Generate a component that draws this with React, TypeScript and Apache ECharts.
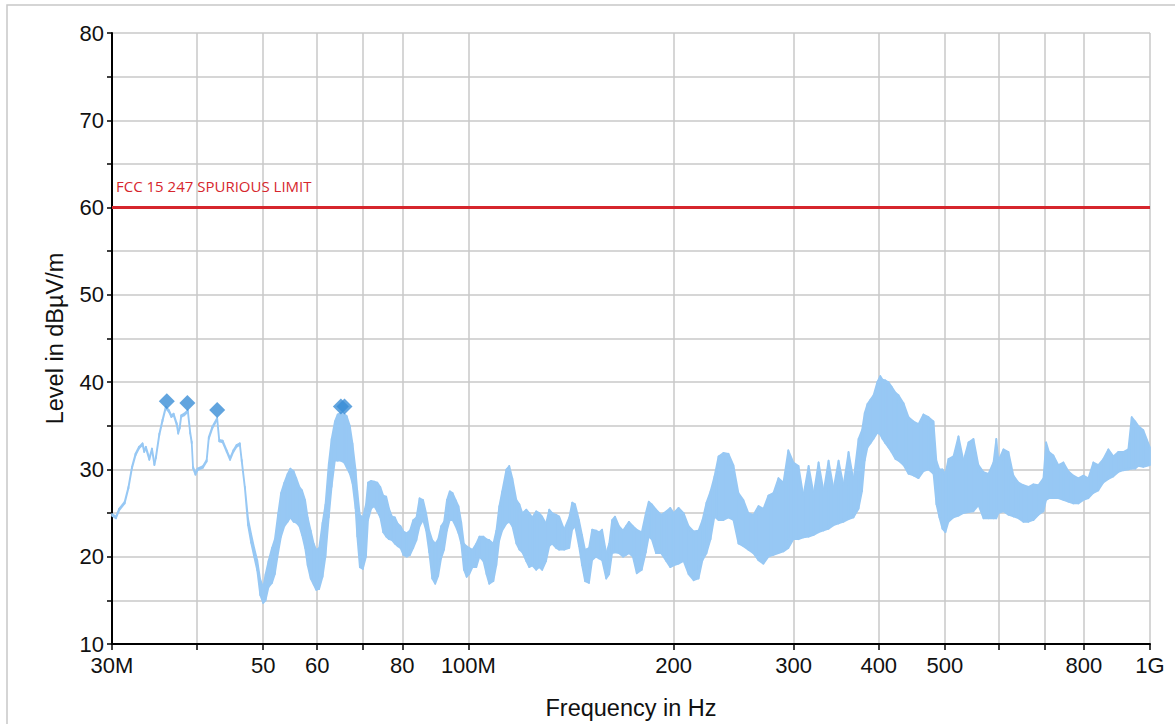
import React, { useEffect, useRef } from 'react';
import * as echarts from 'echarts';

// Frequency (MHz) of each measured point of the trace
const freqMHz: number[] = [
  30.0, 30.4, 30.73, 31.31, 31.71, 32.09, 32.48, 32.87, 33.26, 33.45,
  33.64, 34.03, 34.34, 34.62, 34.8, 35.2, 35.58, 35.97, 36.36, 36.66,
  36.94, 37.33, 37.52, 37.71, 37.9, 38.29, 38.76, 39.07, 39.27, 39.45,
  39.77, 40.05, 40.8, 41.3, 41.6, 42.1, 42.8, 43.1, 43.6, 44.2,
  44.7, 45.2, 45.7, 46.2, 46.5, 47.0, 47.5, 48.0, 48.5, 49.0, 49.5,
  50.0, 50.4, 50.9, 51.5, 52.0, 52.6, 53.1, 53.7, 54.3, 54.8,
  55.4, 55.9, 56.5, 57.0, 57.6, 58.1, 58.7, 59.3, 59.8, 60.4,
  61.1, 61.7, 62.4, 63.0, 63.7, 64.3, 65.0, 65.7, 66.3, 67.0,
  67.6, 68.3, 68.7, 69.3, 70.0,
  70.75, 71.25, 72.0, 72.75, 73.5, 74.25, 75.0, 75.75, 76.5, 77.25,
  78.0, 78.75, 79.5, 80.3, 81.2, 82.1, 83.0, 83.9, 84.8, 85.8,
  86.7, 87.6, 88.5, 89.4, 90.3, 91.2, 92.1, 93.0, 93.9, 94.8,
  95.8, 96.7, 97.6, 98.5, 99.4,
  100.3, 101.4, 102.7, 103.8, 105.2, 106.3, 107.3, 108.8, 109.9, 111.0,
  112.1, 113.7, 114.8, 116.0, 117.6, 118.8, 120.0, 121.6, 122.8, 124.1,
  125.7, 127.0, 128.3, 130.0, 131.4, 132.7, 134.5, 135.9, 138.2, 140.6,
  142.0, 143.4, 145.3, 146.8, 148.3, 150.3, 151.9, 153.9, 155.5, 157.1,
  159.3, 160.9, 162.5, 164.1, 166.3, 168.6, 170.3, 172.0, 174.3, 176.6,
  179.6, 182.1, 183.9, 185.8, 188.5, 191.8, 195.1, 197.8, 200.0,
  203.4, 206.9, 210.4, 214.0, 217.6, 220.5, 223.5, 226.6, 229.6, 232.8,
  236.7, 240.7, 244.8, 249.0, 253.2, 257.5, 261.9, 266.4, 270.9, 275.5,
  280.2, 285.0, 289.8, 294.7, 299.8,
  305, 310, 315.6, 321, 326.4, 332, 337.6, 343.3, 349.2, 355.1,
  361.2, 367.3, 373.6, 378, 381.5, 385, 389, 393, 398, 402,
  405, 409, 413.4, 417.6, 423.3, 427.6, 434.9, 442.3, 449.8, 457.4,
  465.2, 473.1, 481.2, 486, 491, 496, 501, 506.2, 514.8, 523.6,
  532.5, 541.6, 550.8, 560.2, 569.7, 579.4, 589.3, 595, 599.3, 609.5,
  619.9, 630.4, 641.2, 652, 663.2, 674.4, 685.9, 697.6, 704, 711,
  721.5, 733.8, 746.3, 758.9, 771.9, 785, 798.4, 812, 825.8, 839.8,
  854.1, 868.7, 883.4, 898.5, 913.8, 929.3, 940, 951.5, 961.2, 977.6,
  1000,
];

// Lower edge of the measured trace (dBµV/m)
const levelLow: number[] = [
  24.7, 24.4, 25.3, 26.1, 27.8, 30.1, 31.6, 32.4, 32.8, 32.0,
  32.4, 31.1, 32.2, 30.5, 31.3, 33.9, 35.5, 37.0, 36.6, 36.0,
  36.2, 35.1, 34.1, 34.7, 36.0, 36.2, 36.6, 34.1, 33.0, 30.1,
  29.4, 29.9, 30.2, 30.9, 33.5, 34.7, 35.7, 33.2, 33.1, 32.0,
  31.1, 32.0, 32.6, 32.8, 30.9, 27.8, 23.6, 21.6, 20.0, 18.4, 15.6,
  14.7, 15.0, 16.5, 17.0, 18.0, 20.5, 22.3, 23.5, 24.0, 24.5,
  24.0, 23.9, 23.5, 22.5, 21.0, 19.0, 17.5, 16.8, 16.2, 16.3,
  17.7, 20.0, 24.5, 28.0, 31.0, 31.0, 31.0, 30.8, 30.2, 29.5,
  28.4, 25.5, 22.3, 18.8, 18.6,
  20.0, 24.2, 25.5, 25.8, 25.2, 24.5, 22.8, 22.3, 22.0, 21.9,
  21.5, 21.2, 21.0, 20.2, 20.0, 20.2, 21.0, 21.9, 23.5, 24.2,
  23.0, 20.5, 17.5, 16.9, 17.8, 19.8, 20.8, 23.0, 24.2, 24.2,
  23.5, 22.7, 21.5, 18.5, 17.7,
  18.0, 18.8, 18.8, 20.0, 19.5, 18.0, 16.9, 17.2, 19.0, 21.9,
  23.0, 23.8, 24.0, 23.5, 21.5, 20.8, 20.5, 19.5, 18.8, 19.0,
  18.5, 18.8, 18.5, 19.5, 21.2, 21.5, 21.0, 20.8, 20.8, 21.0,
  23.1, 23.5, 21.2, 19.0, 17.2, 17.0, 19.6, 20.0, 19.8, 19.6,
  17.5, 18.0, 20.4, 20.5, 20.4, 20.0, 20.2, 20.4, 20.0, 18.1,
  18.5, 20.5, 22.3, 22.0, 20.4, 20.4, 19.5, 18.8, 19.0,
  19.2, 19.5, 18.0, 17.3, 17.5, 19.6, 20.4, 22.0, 24.6, 24.2,
  24.2, 24.5, 24.2, 21.5, 21.2, 20.8, 20.4, 19.6, 19.2, 20.0,
  20.2, 20.4, 20.6, 21.0, 22.0,
  22.0, 22.2, 22.3, 22.5, 22.8, 23.0, 23.2, 23.6, 23.8, 24.0,
  24.3, 24.5, 25.5, 27.5, 31.0, 32.5, 33.0, 33.5, 34.2, 34.0,
  33.5, 33.0, 32.5, 32.0, 31.2, 31.0, 30.5, 29.5, 29.3, 29.0,
  29.8, 30.0, 29.5, 26.0, 24.5, 23.2, 22.8, 24.0, 24.5, 24.7,
  25.0, 25.1, 25.2, 25.9, 24.4, 24.4, 24.4, 24.4, 25.0, 25.2,
  24.8, 24.6, 24.4, 24.0, 24.0, 24.2, 24.8, 25.2, 26.5, 26.7,
  26.7, 26.7, 26.5, 26.3, 26.1, 26.1, 26.5, 26.7, 27.3, 27.6,
  28.5, 28.9, 29.2, 29.7, 29.9, 30.0, 30.1, 30.1, 30.4, 30.3,
  30.5,
];

// Upper edge of the measured trace (dBµV/m)
const levelHigh: number[] = [
  24.9, 24.6, 25.5, 26.3, 28.0, 30.3, 31.8, 32.6, 33.0, 32.2,
  32.6, 31.3, 32.4, 30.7, 31.5, 34.1, 35.7, 37.2, 36.8, 36.2,
  36.4, 35.3, 34.3, 34.9, 36.2, 36.4, 36.8, 34.3, 33.2, 30.3,
  29.6, 30.1, 30.4, 31.1, 33.7, 34.9, 35.9, 33.4, 33.3, 32.2,
  31.3, 32.2, 32.8, 33.0, 31.1, 28.0, 24.4, 22.6, 21.0, 19.6, 17.4,
  16.5, 18.0, 19.5, 21.0, 22.0, 25.0, 27.3, 28.5, 29.5, 30.1,
  29.8, 29.0, 28.0, 27.6, 26.5, 24.5, 23.0, 21.5, 20.8, 21.0,
  23.9, 26.0, 30.7, 33.5, 35.5, 36.3, 36.5, 36.4, 36.1, 35.0,
  33.0, 30.0, 27.6, 24.8, 24.5,
  26.0, 28.5, 28.7, 28.6, 28.5, 28.0, 27.0, 26.9, 25.5, 24.6,
  24.5, 23.8, 23.5, 22.9, 22.7, 23.0, 24.2, 24.5, 26.7, 26.5,
  25.0, 23.0, 21.9, 21.5, 22.0, 23.5, 24.0, 26.5, 27.5, 27.3,
  26.5, 25.8, 24.0, 21.5, 21.2,
  21.0, 20.8, 21.5, 22.3, 22.3, 22.0, 21.9, 21.5, 23.0, 25.8,
  27.5, 30.0, 30.4, 29.0, 26.5, 26.0, 25.0, 25.4, 25.0, 24.5,
  25.2, 25.0, 24.6, 23.8, 25.4, 25.0, 24.8, 24.6, 23.1, 24.5,
  26.2, 26.0, 24.2, 22.5, 20.8, 21.0, 23.1, 23.0, 22.8, 23.1,
  20.4, 21.5, 24.2, 24.6, 23.5, 23.0, 23.5, 24.0, 23.5, 23.1,
  22.8, 25.0, 26.3, 26.0, 25.4, 24.8, 25.2, 25.6, 25.0,
  25.6, 25.0, 23.5, 22.9, 23.0, 24.2, 26.2, 27.5, 29.2, 31.5,
  31.9, 31.8, 30.5, 27.3, 26.5, 25.0, 24.8, 25.8, 25.5, 27.0,
  27.3, 29.0, 28.5, 32.2, 30.8,
  30.4, 27.0, 30.4, 27.2, 30.8, 27.5, 31.0, 27.8, 31.0, 28.2,
  32.0, 28.8, 33.5, 34.5, 36.5, 37.5, 38.0, 38.5, 40.0, 40.7,
  40.3, 40.2, 40.0, 39.5, 38.8, 38.5, 37.6, 36.0, 35.5, 35.2,
  36.3, 36.0, 35.5, 31.0, 30.0, 30.0, 29.5, 31.2, 31.5, 33.8,
  31.0, 33.1, 33.5, 30.5, 29.7, 29.5, 30.8, 33.5, 31.0, 32.3,
  32.0, 29.3, 28.5, 28.2, 28.0, 28.3, 28.2, 29.0, 33.1, 32.0,
  31.6, 30.5, 30.8, 29.8, 29.3, 29.0, 29.3, 29.0, 30.8, 30.5,
  31.2, 32.3, 31.5, 32.0, 32.0, 32.3, 36.0, 35.5, 35.0, 34.5,
  32.5,
];

// Final-measurement markers
const markerFreqMHz: number[] = [36.1, 38.7, 42.8, 65.0, 65.8];
const markerLevel: number[] = [37.8, 37.6, 36.8, 37.2, 37.2];

// Limit line
const limitLevel = 60;
const limitLabel = 'FCC 15 247 SPURIOUS LIMIT';

// Axis ticks / labels
const xTickValues: number[] = [30, 40, 50, 60, 70, 80, 100, 200, 300, 400, 500, 600, 700, 800, 1000];
const xLabelValues: number[] = [30, 50, 60, 80, 100, 200, 300, 400, 500, 800, 1000];
const xLabelText: string[] = ['30M', '50', '60', '80', '100M', '200', '300', '400', '500', '800', '1G'];

const TRACE = '#97c8f4';
const MARKER = '#3a8dd6';
const LIMIT = '#d6262d';
const GRID = '#c8c8c8';
const FONT = '"Liberation Sans", Arial, sans-serif';

export default function App() {
  const ref = useRef<HTMLDivElement>(null);

  useEffect(() => {
    if (!ref.current) return;
    const chart = echarts.init(ref.current, null, { renderer: 'svg' });

    const bandData = freqMHz.map((f, i) => [f, levelLow[i], levelHigh[i]]);
    const markerData = markerFreqMHz.map((f, i) => [f, markerLevel[i]]);

    const option: any = {
      animation: false,
      backgroundColor: '#ffffff',
      graphic: [
        {
          type: 'rect',
          silent: true,
          shape: { x: 7, y: 5, width: 1400, height: 900 },
          style: { fill: 'none', stroke: GRID, lineWidth: 1.5 },
          z: -10,
        },
      ],
      grid: {
        left: 112,
        right: 25,
        top: 33,
        bottom: 80,
        containLabel: false,
        outerBoundsMode: 'none',
      },
      xAxis: {
        type: 'log',
        logBase: 10,
        min: 30,
        max: 1000,
        name: 'Frequency in Hz',
        nameLocation: 'middle',
        nameGap: 52,
        nameTextStyle: { fontSize: 23.5, lineHeight: 24, color: '#111', fontFamily: FONT },
        axisLine: { show: true, onZero: false, lineStyle: { color: '#000', width: 2 } },
        axisTick: {
          show: true,
          length: 6,
          customValues: xTickValues,
          lineStyle: { color: '#000', width: 1.5 },
        },
        axisLabel: {
          customValues: xLabelValues,
          formatter: (v: number) => {
            const idx = xLabelValues.findIndex((x) => Math.abs(x - v) / x < 0.001);
            return idx >= 0 ? xLabelText[idx] : '';
          },
          fontSize: 22,
          lineHeight: 22,
          color: '#111',
          fontFamily: FONT,
          margin: 10,
        },
        splitLine: { show: true, lineStyle: { color: GRID, width: 1.5 } },
        minorTick: { show: false },
        minorSplitLine: { show: false },
      },
      yAxis: {
        type: 'value',
        min: 10,
        max: 80,
        interval: 5,
        name: 'Level in dBµV/m',
        nameLocation: 'middle',
        nameGap: 45,
        nameRotate: 90,
        nameTextStyle: { fontSize: 23.5, color: '#111', fontFamily: FONT },
        axisLine: { show: true, lineStyle: { color: '#000', width: 2 } },
        axisTick: { show: true, length: 5, lineStyle: { color: '#000', width: 1.5 } },
        axisLabel: {
          formatter: (v: number) => (v % 10 === 0 ? String(v) : ''),
          fontSize: 22,
          lineHeight: 18,
          color: '#111',
          fontFamily: FONT,
          margin: 8,
        },
        splitLine: { show: true, lineStyle: { color: GRID, width: 1.5 } },
      },
      series: [
        {
          type: 'custom',
          name: 'Trace',
          data: bandData,
          encode: { x: 0, y: [1, 2] },
          z: 3,
          renderItem: (params: any, api: any) => {
            const i = params.dataIndex;
            if (i >= freqMHz.length - 1) return null;
            const a = api.coord([freqMHz[i], levelHigh[i]]);
            const b = api.coord([freqMHz[i + 1], levelHigh[i + 1]]);
            const c = api.coord([freqMHz[i + 1], levelLow[i + 1]]);
            const d = api.coord([freqMHz[i], levelLow[i]]);
            return {
              type: 'polygon',
              shape: { points: [a, b, c, d] },
              style: { fill: TRACE, stroke: TRACE, lineWidth: 1.7, lineJoin: 'round' },
            };
          },
        },
        {
          type: 'scatter',
          name: 'Markers',
          data: markerData,
          symbol: 'diamond',
          symbolSize: 16,
          itemStyle: { color: MARKER },
          z: 5,
          markLine: {
            silent: true,
            symbol: 'none',
            animation: false,
            lineStyle: { color: LIMIT, width: 3, type: 'solid' },
            label: {
              show: true,
              position: 'insideStartTop',
              formatter: limitLabel,
              color: LIMIT,
              fontSize: 15,
              fontFamily: '"Open Sans", sans-serif',
              distance: [4, 14],
            },
            data: [{ yAxis: limitLevel }],
          },
        },
      ],
    };

    chart.setOption(option);
    return () => chart.dispose();
  }, []);

  return (
    <div
      ref={ref}
      style={{ position: 'fixed', left: 0, top: 0, width: 1175, height: 724, background: '#fff' }}
    />
  );
}
